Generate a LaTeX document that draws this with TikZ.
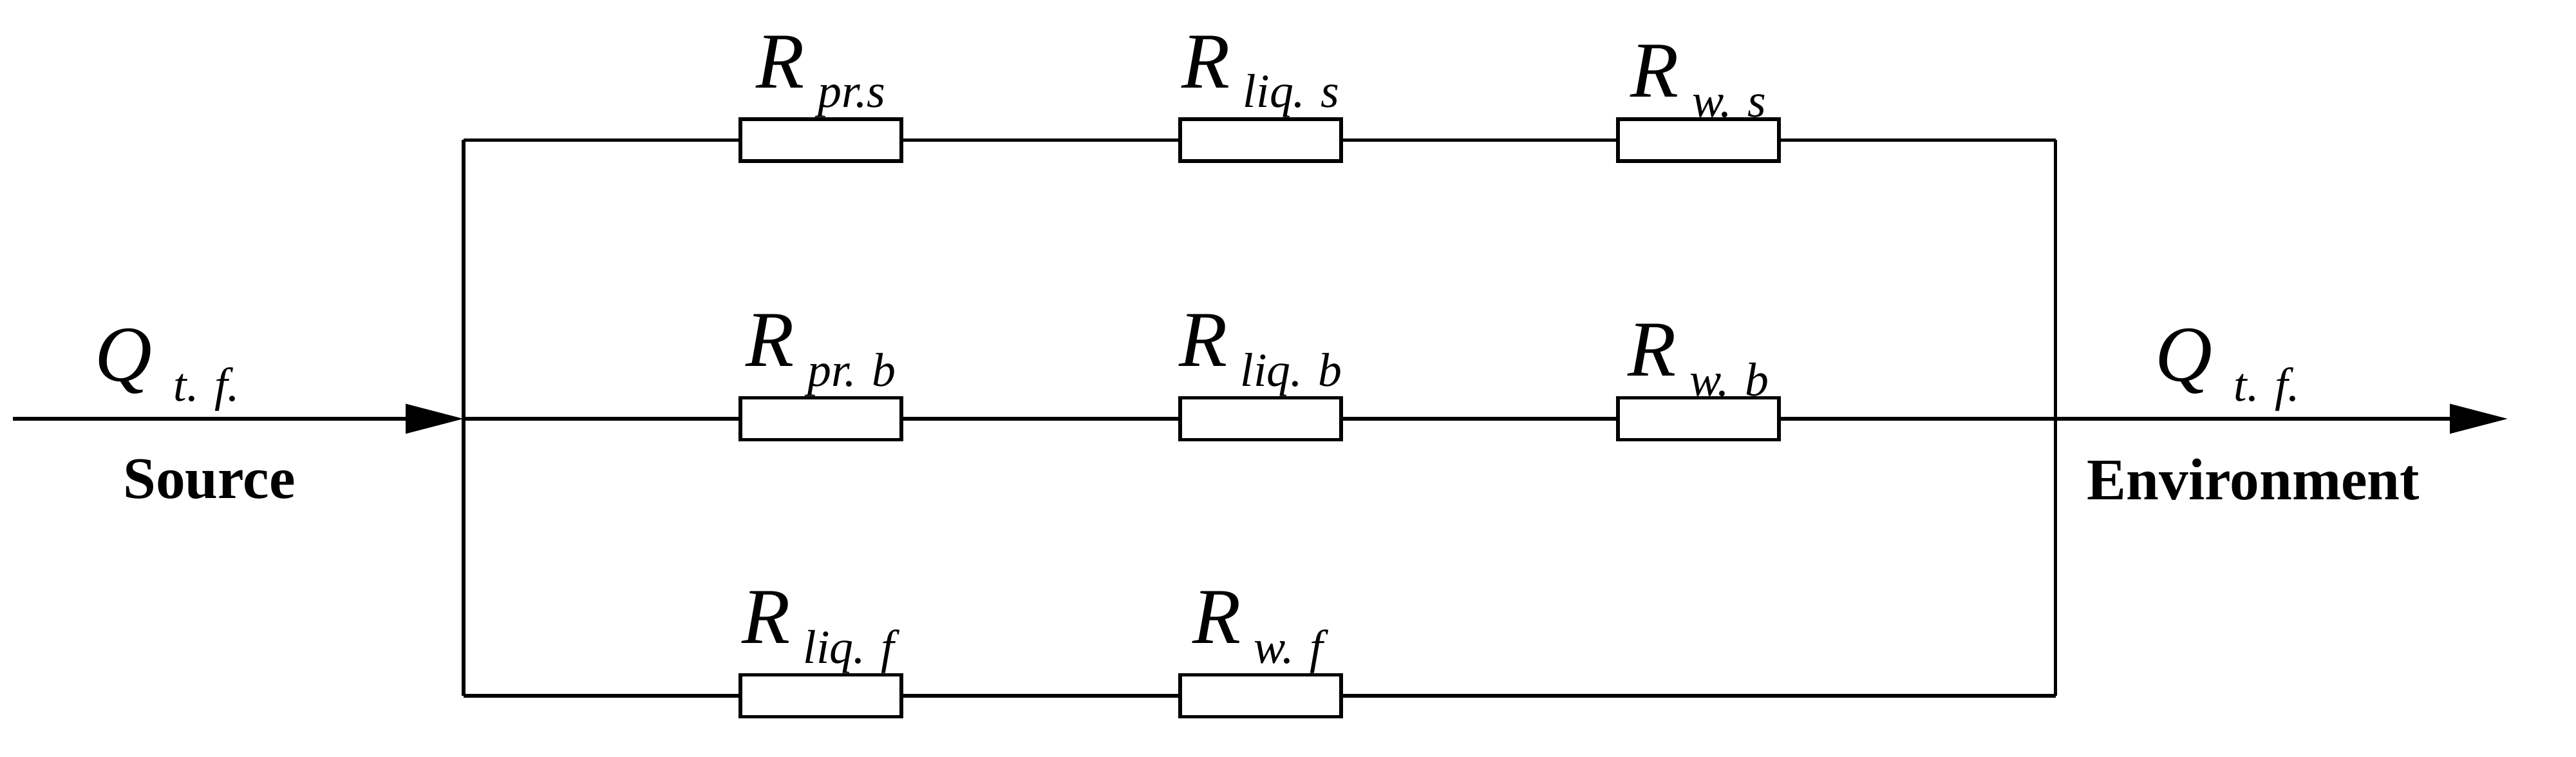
\documentclass[tikz,border=0pt]{standalone}
\usepackage{fontspec}
\setmainfont{Liberation Serif}
\usetikzlibrary{arrows.meta}
\newcommand{\rname}[2]{\textit{#1}\,\raisebox{-0.25em}{\fontsize{21}{23}\selectfont\textit{#2}}}
\begin{document}
\begin{tikzpicture}[line width=1.6pt,
    res/.style={draw, minimum width=2.5cm, minimum height=0.65cm, inner sep=0pt},
    rlab/.style={above=-0.15cm, font=\fontsize{35}{37}\selectfont},
    blab/.style={font=\bfseries\fontsize{26}{28}\selectfont},
    flow/.style={-{Triangle[length=0.9cm,width=0.45cm]}}]
    \useasboundingbox (0,0) rectangle (40.01,11.74);
    % Junction corners
    \coordinate (tl) at (7.2,9.565);
    \coordinate (ml) at (7.2,5.24);
    \coordinate (bl) at (7.2,0.94);
    \coordinate (tr) at (31.925,9.565);
    \coordinate (mr) at (31.925,5.24);
    \coordinate (br) at (31.925,0.94);
    \coordinate (in) at (0.2,5.24);
    \coordinate (out) at (38.95,5.24);
    % Resistors
    \node[res] (ps) at (12.75,9.565) {};
    \node[res] (ls) at (19.58,9.565) {};
    \node[res] (ws) at (26.38,9.565) {};
    \node[res] (pb) at (12.75,5.24) {};
    \node[res] (lb) at (19.58,5.24) {};
    \node[res] (wb) at (26.38,5.24) {};
    \node[res] (lf) at (12.75,0.94) {};
    \node[res] (wf) at (19.58,0.94) {};
    % Labels
    \node[rlab] at (ps.north) {\rname{R}{pr.s}};
    \node[rlab] at (ls.north) {\rname{R}{liq. s}};
    \node[rlab] at (ws.north) {\rname{R}{w. s}};
    \node[rlab] at (pb.north) {\rname{R}{pr. b}};
    \node[rlab] at (lb.north) {\rname{R}{liq. b}};
    \node[rlab] at (wb.north) {\rname{R}{w. b}};
    \node[rlab] at (lf.north) {\rname{R}{liq. f}};
    \node[rlab] at (wf.north) {\rname{R}{w. f}};
    % Wires
    \draw (tl) -- (bl);
    \draw (tr) -- (br);
    \draw (tl) -- (ps.west) (ps.east) -- (ls.west) (ls.east) -- (ws.west) (ws.east) -- (tr);
    \draw (ml) -- (pb.west) (pb.east) -- (lb.west) (lb.east) -- (wb.west) (wb.east) -- (mr);
    \draw (bl) -- (lf.west) (lf.east) -- (wf.west) (wf.east) -- (br);
    % Heat flow
    \draw[flow] (in) -- (ml);
    \draw[flow] (mr) -- (out);
    \node[font=\fontsize{35}{37}\selectfont] (qin) at (2.6,6.0) {\rname{Q}{\,t. f.}};
    \node[font=\fontsize{35}{37}\selectfont] (qout) at (34.6,6.0) {\rname{Q}{\,t. f.}};
    \node[blab] (src) at (3.25,4.3) {Source};
    \node[blab] (env) at (35.0,4.3) {Environment};
\end{tikzpicture}
\end{document}
